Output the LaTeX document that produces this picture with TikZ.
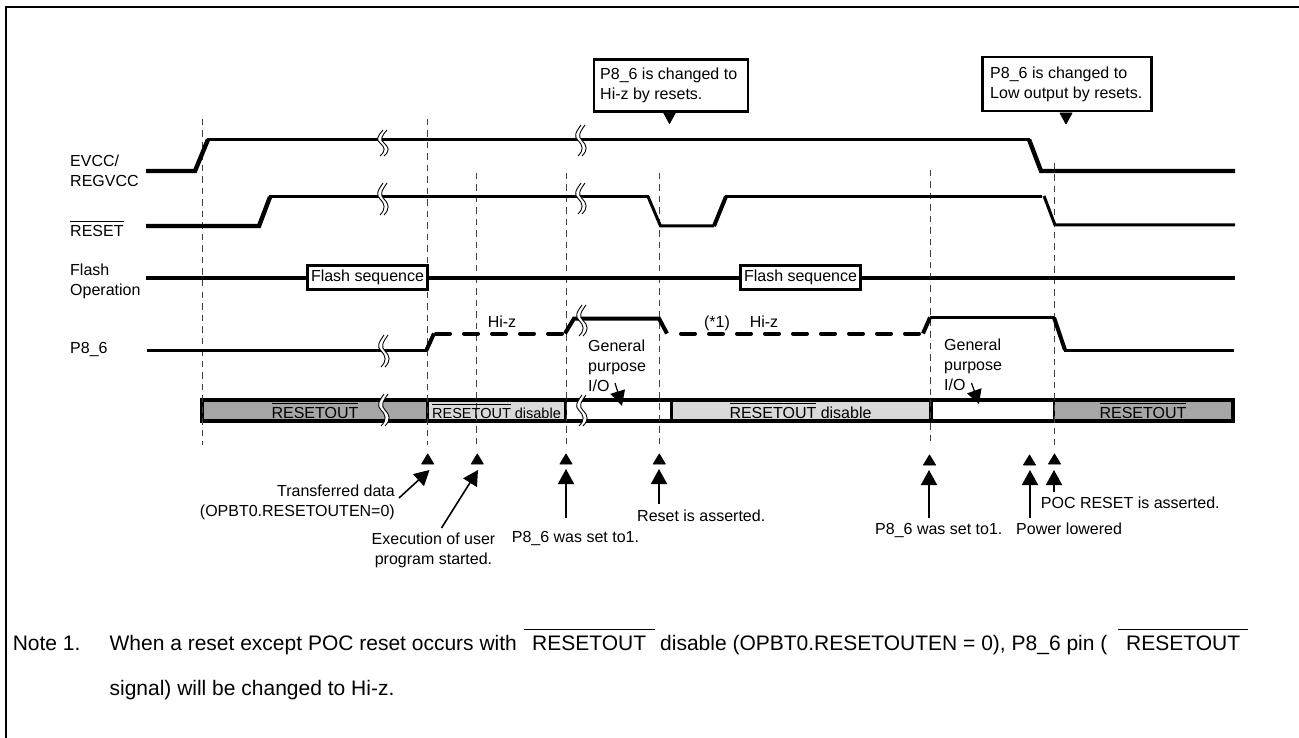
\documentclass[tikz,border=0pt]{standalone}
\usepackage{fontspec}
\setmainfont{Liberation Sans}
\usetikzlibrary{arrows.meta}
\definecolor{darkbar}{HTML}{A6A6A6}
\definecolor{lightbar}{HTML}{D9D9D9}
\newcommand{\ovl}[1]{\leavevmode\setbox0=\hbox{#1}\rlap{\rule[.9em]{\wd0}{.07em}}\box0\relax}
% wave-shaped break: x, top, bottom
\newcommand{\brk}[3]{%
\begin{scope}[shift={(#1,#2)},yscale=(#3-#2)/30]
 \fill[white] (-1,0) .. controls (-7,8) and (-8,11) .. (-4,15) .. controls (1,20) and (2,24) .. (-4,30)
  -- (0,30) .. controls (6,24) and (5,20) .. (0,15) .. controls (-4,11) and (-3,8) .. (3,0) -- cycle;
 \draw[brkline] (-1,0) .. controls (-7,8) and (-8,11) .. (-4,15) .. controls (1,20) and (2,24) .. (-4,30);
 \draw[brkline] (3,0) .. controls (-3,8) and (-4,11) .. (0,15) .. controls (5,20) and (6,24) .. (0,30);
\end{scope}}
\newcommand{\uptri}[2]{\fill[line join=round,draw=black,line width=.8pt] (#1-6,#2+10) -- (#1,#2) -- (#1+6,#2+10) -- cycle;}
\newcommand{\dntri}[2]{\fill[line join=round,draw=black,line width=.8pt] (#1-6,#2) -- (#1,#2+11) -- (#1+6,#2) -- cycle;}
\tikzset{
 x=1pt,y=-1pt,
 brkline/.style={line width=.9pt,black},
 guide/.style={line width=1pt,black!75,dash pattern=on 6.5pt off 5pt},
 sigthick/.style={line width=4.4pt},
 sigmid/.style={line width=4pt},
 sigthin/.style={line width=3pt},
 lbl/.style={inner sep=0pt,font=\fontsize{16}{20}\selectfont,text height=11.5pt,text depth=0pt},
 ml/.style={inner sep=0pt,font=\fontsize{16}{20}\selectfont,align=left},
 callout/.style={draw=black,line width=2.5pt,fill=white,inner sep=0pt},
 seqbox/.style={draw=black,line width=2.8pt,fill=white,inner sep=0pt,minimum width=120pt,minimum height=24pt,font=\fontsize{16}{20}\selectfont},
 bigarrow/.style={line width=1.6pt,-{Triangle[length=15pt,width=16pt]}},
 notetxt/.style={inner sep=0pt,font=\fontsize{21}{25}\selectfont,text height=15pt,text depth=0pt},
 noteline/.style={line width=1.5pt},
}
\begin{document}
\begin{tikzpicture}
\useasboundingbox (0,0) rectangle (1299,738);
\fill[white] (0,0) rectangle (1299,738);
% frame
\coordinate (fa) at (6,738); \coordinate (fb) at (6,7); \coordinate (fc) at (1299,7);
\draw[line width=2pt] (fa) -- (fb) -- (fc);
% status bar
\fill[darkbar] (202,399) rectangle (427,421);
\fill[lightbar] (427,399) rectangle (565,421);
\fill[white] (565,399) rectangle (671,421);
\fill[lightbar] (671,399) rectangle (930,421);
\fill[white] (930,399) rectangle (1054,421);
\fill[darkbar] (1054,399) rectangle (1233,421);
\draw[line width=4pt] (202,399.5) rectangle (1233,421);
\draw[line width=3pt] (427,399) -- (427,421);
\draw[line width=3pt] (565,399) -- (565,421);
\draw[line width=3pt] (671,399) -- (671,421);
\draw[line width=4pt] (930.5,399) -- (930.5,421);
\draw[line width=2.5pt] (1054,399) -- (1054,421);
% guides
\foreach \gx/\gt in {202/119,427/119,476/173,566/173,659/173,930/170,1054/163}
  \draw[guide] (\gx,\gt) -- (\gx,445);
% EVCC
\draw[sigthick] (146,171) -- (195,171) -- (208,139.5);
\draw[sigthin] (207,139.5) -- (1030,139.5);
\draw[sigthick] (1029,139.5) -- (1041,171) -- (1235,171);
% RESET
\draw[sigthick] (146,226) -- (259,226) -- (270,197);
\draw[sigthin] (269,197) -- (649,197);
\draw[sigthin] (648,196.5) -- (660.5,226) -- (714,226);
\draw[sigmid] (714,226) -- (726,196.5);
\draw[sigthin] (725,197) -- (1042,197);
\draw[sigthin] (1044,196) -- (1055,225) -- (1235,225);
% Flash
\draw[sigthick] (146,278) -- (1235,278);
\node[seqbox] (fs1) at (367.5,277.5) {Flash sequence};
\node[seqbox] (fs2) at (800.5,277.5) {Flash sequence};
% P8_6
\draw[sigthin] (147,350) -- (427,350);
\draw[sigmid] (426.5,350) -- (434,333.5);
\draw[sigmid,line cap=round,dash pattern=on 14pt off 14pt] (436,333.5) -- (565,333.5);
\draw[sigmid] (565,333.5) -- (574,318.5) -- (659,318.5) -- (667,333.5);
\draw[sigmid,line cap=round,dash pattern=on 14pt off 14pt] (681,333.5) -- (921,333.5);
\draw[sigmid] (923,333.5) -- (930,317.5);
\draw[sigthin] (929.5,317.5) -- (1054,317.5);
\draw[sigmid] (1054,317.5) -- (1065,350);
\draw[sigthin] (1064,350) -- (1234,350);
% breaks
\brk{384}{130}{156}
\brk{384}{183}{215}
\brk{582}{125}{156}
\brk{582}{183}{214}
\brk{385}{335}{367}
\brk{583}{305}{336}
\brk{385}{394}{426}
\brk{583}{395}{426}
% left labels
\node[ml,anchor=north west] (evcc) at (70,155) {EVCC/\\REGVCC};
\node[lbl,anchor=west] (reset) at (70,231) {\ovl{RESET}};
\node[ml,anchor=north west] (flash) at (70,264) {Flash\\Operation};
\node[lbl,anchor=west] (p86) at (70,348) {P8\_6};
% bar labels
\node[lbl] (b1) at (315,413) {\ovl{RESETOUT}};
\node[inner sep=0pt,font=\fontsize{14.5}{18}\selectfont,text height=10.5pt,text depth=0pt] (b2) at (496.5,413) {\ovl{RESETOUT} disable};
\node[lbl] (b3) at (800.5,413) {\ovl{RESETOUT} disable};
\node[lbl] (b4) at (1143,413) {\ovl{RESETOUT}};
% mid labels
\node[lbl] (hz1) at (502,322) {Hi-z};
\node[lbl] (st1) at (717,322) {(*1)};
\node[lbl] (hz2) at (764,322) {Hi-z};
\node[ml,anchor=north west] (gp1) at (588,340) {General\\purpose\\I/O};
\node[ml,anchor=north west] (gp2) at (944,339) {General\\purpose\\I/O};
\coordinate (g1s) at (615,383); \coordinate (g1t) at (622,406);
\coordinate (g2s) at (971.5,383); \coordinate (g2t) at (979,404);
\draw[line width=1.2pt,-{Triangle[length=15pt,width=15pt]}] (g1s) -- (g1t);
\draw[line width=1.2pt,-{Triangle[length=14pt,width=15pt]}] (g2s) -- (g2t);
% callouts
\node[callout,anchor=north west,minimum width=154pt,minimum height=52pt] (c1) at (592.5,58.5) {};
\node[ml,anchor=north west] (c1t) at (600,68) {P8\_6 is changed to\\Hi-z by resets.};
\node[callout,anchor=north west,minimum width=169pt,minimum height=54pt] (c2) at (981,56) {};
\node[ml,anchor=north west] (c2t) at (990,67) {P8\_6 is changed to\\Low output by resets.};
\dntri{669.5}{112.5}
\dntri{1066}{113}
% small up triangles
\uptri{427.7}{454}
\uptri{477.3}{454}
\uptri{566}{454}
\uptri{659.3}{454}
\uptri{929.5}{455}
\uptri{1029.5}{455}
\uptri{1054.5}{454}
% arrows
\coordinate (a1s) at (399,498); \coordinate (a1t) at (429.5,470);
\coordinate (a2s) at (441.5,528); \coordinate (a2t) at (478,470);
\coordinate (a3s) at (566,518); \coordinate (a3t) at (566,469);
\coordinate (a4s) at (659,504); \coordinate (a4t) at (659,469);
\coordinate (a5s) at (929,518); \coordinate (a5t) at (929,470);
\coordinate (a6s) at (1030,518); \coordinate (a6t) at (1030,470);
\coordinate (a7s) at (1054,492); \coordinate (a7t) at (1054,470);
\foreach \n in {1,...,7} \draw[bigarrow] (a\n s) -- (a\n t);
% annotations
\node[ml,anchor=north east,align=right] (tr) at (395,485) {Transferred data\\(OPBT0.RESETOUTEN=0)};
\node[ml,anchor=north,align=center] (ex) at (433.5,533) {Execution of user\\program started.};
\node[lbl,anchor=west] (s1) at (511.7,537) {P8\_6 was set to1.};
\node[lbl,anchor=west] (ra) at (637,516) {Reset is asserted.};
\node[lbl,anchor=west] (s2) at (875,529) {P8\_6 was set to1.};
\node[lbl,anchor=west] (pl) at (1016,529) {Power lowered};
\node[lbl,anchor=west] (poc) at (1040.7,503) {POC RESET is asserted.};
% note
\node[notetxt,anchor=west] (n0) at (12.6,643) {Note 1.};
\node[notetxt,anchor=west] (n1) at (109.4,643) {When a reset except POC reset occurs with};
\node[notetxt,anchor=west] (n2) at (532,643) {RESETOUT};
\node[notetxt,anchor=west] (n3) at (660,643) {disable (OPBT0.RESETOUTEN = 0), P8\_6 pin (};
\node[notetxt,anchor=west] (n4) at (1126,643) {RESETOUT};
\node[notetxt,anchor=west] (n5) at (109.4,688) {signal) will be changed to Hi-z.};
\coordinate (o1) at (524,629.5); \coordinate (o2) at (654.5,629.5);
\coordinate (o3) at (1117.7,629.5); \coordinate (o4) at (1248,629.5);
\draw[noteline] (o1) -- (o2);
\draw[noteline] (o3) -- (o4);
\end{tikzpicture}
\end{document}
